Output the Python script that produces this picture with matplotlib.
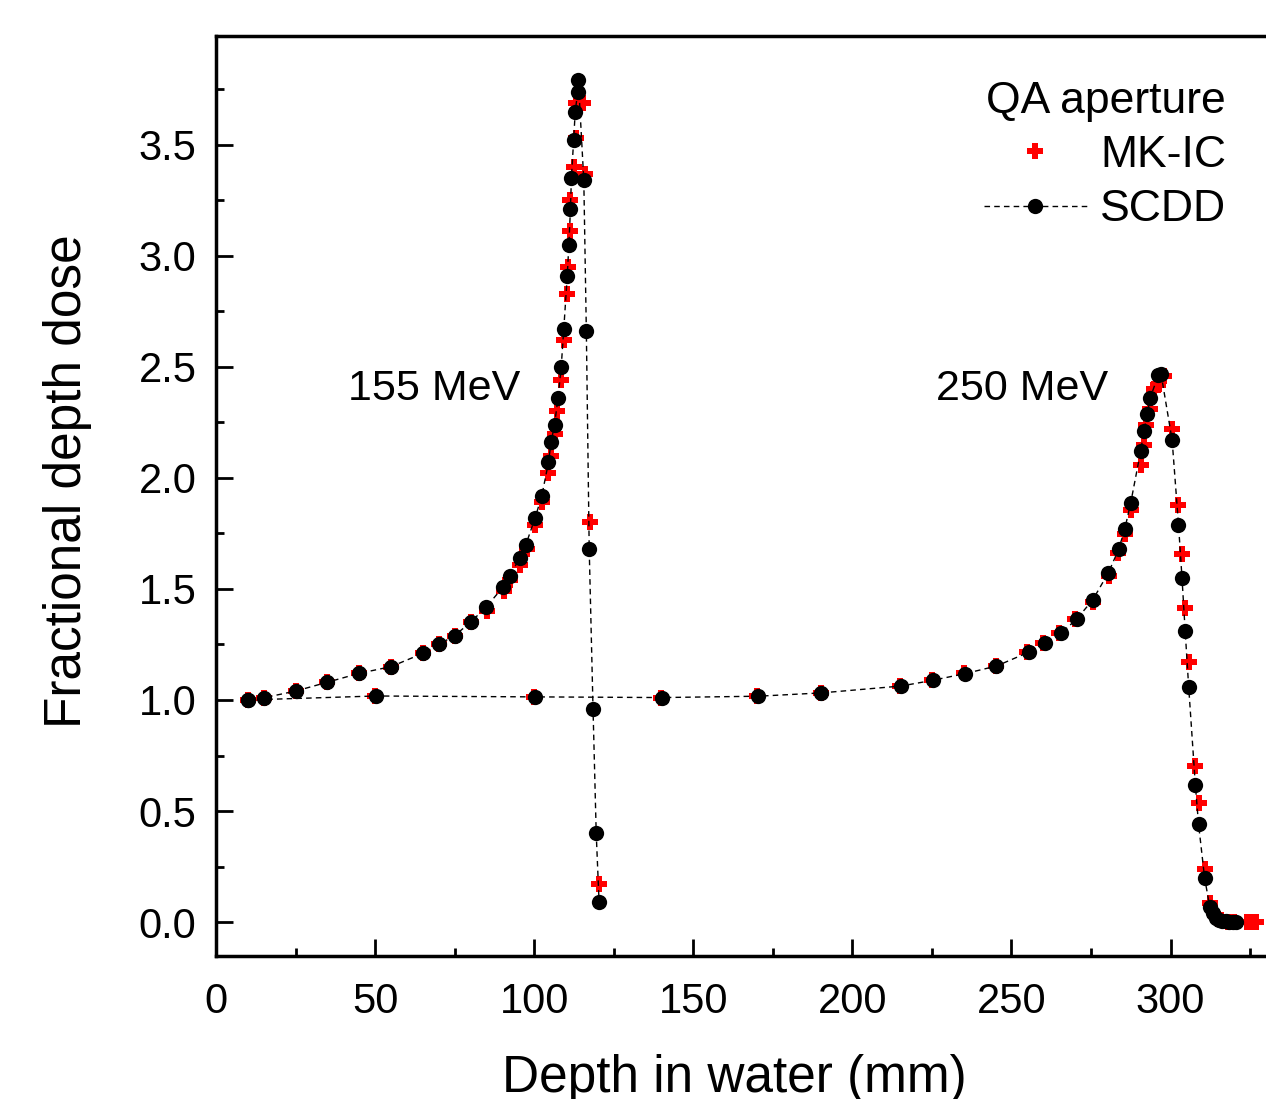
import numpy as np
import matplotlib
matplotlib.use('Agg')
import matplotlib.pyplot as plt

#____________ Data ____________
# SCDD, 155 MeV
scdd_155_x = [10, 15, 25, 35, 45, 55, 65, 70, 75, 80, 85, 90.3, 92.5, 95.4, 97.4,
              100.3, 102.4, 104.5, 105.3, 106.4, 107.5, 108.5, 109.3, 110.4, 110.9,
              111.4, 111.7, 112.4, 112.9, 113.7, 113.9,
              115.6, 116.4, 117.3, 118.5, 119.5, 120.4]
scdd_155_y = [1.00, 1.01, 1.04, 1.08, 1.12, 1.15, 1.21, 1.25, 1.29, 1.35, 1.42, 1.51, 1.56, 1.64, 1.70,
              1.82, 1.92, 2.07, 2.16, 2.24, 2.36, 2.50, 2.67, 2.91, 3.05,
              3.21, 3.35, 3.52, 3.65, 3.74, 3.79,
              3.34, 2.66, 1.68, 0.96, 0.40, 0.09]

# SCDD, 250 MeV
scdd_250_x = [10, 50.2, 100.3, 140.3, 170.4, 190.3, 215.4, 225.4, 235.5, 245.3, 255.4, 260.4,
              265.5, 270.5, 275.6, 280.5, 283.7, 285.6, 287.5, 290.6, 291.6, 292.7, 293.6,
              296.2, 297.0, 300.5, 302.5, 303.6, 304.6, 305.7, 307.8, 308.8, 310.7,
              312.3, 313.3, 314.3, 315.3, 316.3, 317.5, 318.5, 319.5, 320.5]
scdd_250_y = [1.00, 1.018, 1.014, 1.011, 1.017, 1.032, 1.063, 1.089, 1.119, 1.153, 1.215, 1.256,
              1.30, 1.364, 1.452, 1.574, 1.679, 1.769, 1.889, 2.12, 2.21, 2.286, 2.36,
              2.465, 2.47, 2.17, 1.79, 1.55, 1.31, 1.059, 0.617, 0.441, 0.20,
              0.07, 0.04, 0.02, 0.01, 0.005, 0.003, 0.0, 0.0, 0.0]

# MK-IC, 155 MeV
mkic_155_x = [10, 15, 25, 35, 45, 55, 65, 70, 75, 80, 85.3, 90.5, 92.4, 95.5, 97.6,
              100.3, 102.4, 104.5, 105.3, 106.5, 107.3, 108.3, 109.3, 110.4, 110.7,
              111.2, 111.4, 112.5, 113.3, 113.2, 115.4, 116.1, 117.4, 120.4]
mkic_155_y = [1.00, 1.01, 1.04, 1.08, 1.12, 1.15, 1.21, 1.25, 1.29, 1.35, 1.40, 1.49, 1.54, 1.61, 1.68,
              1.79, 1.89, 2.02, 2.10, 2.20, 2.30, 2.44, 2.62, 2.83, 2.95,
              3.11, 3.25, 3.40, 3.53, 3.69, 3.69, 3.37, 1.80, 0.17]

# MK-IC, 250 MeV
mkic_250_x = [10, 50, 100, 140, 170, 190, 215, 225, 235, 245, 255, 260, 265, 270, 275.6,
              280.6, 283.5, 285.6, 287.7, 290.6, 291.6, 292.4, 293.4, 294.7, 296.0, 297.8,
              300.5, 302.5, 303.6, 304.6, 305.7, 307.8, 308.8, 310.9, 312.5,
              314, 315, 316, 318, 320, 324, 325, 326, 327]
mkic_250_y = [1.00, 1.02, 1.015, 1.01, 1.02, 1.03, 1.065, 1.09, 1.12, 1.155, 1.215, 1.255, 1.30, 1.365, 1.44,
              1.56, 1.66, 1.746, 1.854, 2.06, 2.15, 2.24, 2.31, 2.40, 2.42, 2.46,
              2.22, 1.877, 1.656, 1.414, 1.17, 0.702, 0.538, 0.241, 0.084,
              0.03, 0.015, 0.01, 0.0, 0.0, 0.0, 0.0, 0.0, 0.0]

#____________ Plot ____________
plt.rcParams['font.family'] = ['Liberation Sans', 'DejaVu Sans']

fig = plt.figure(figsize=(12.66, 10.99), dpi=100)
ax = fig.add_axes([0.1706, 0.1301, 0.8294, 0.8371])

# MK-IC drawn first so the SCDD circles sit on top
mk_style = dict(linestyle='none', marker='P', color='red', markersize=12, markeredgewidth=0)
ax.plot(mkic_155_x, mkic_155_y, label='MK-IC', **mk_style)
ax.plot(mkic_250_x, mkic_250_y, **mk_style)

sc_style = dict(color='black', linestyle=(0, (4, 3)), linewidth=1.0,
                marker='o', markersize=11, markerfacecolor='black', markeredgewidth=0)
ax.plot(scdd_155_x, scdd_155_y, label='SCDD', **sc_style)
ax.plot(scdd_250_x, scdd_250_y, **sc_style)

ax.text(68.6, 2.40, '155 MeV', fontsize=31, ha='center', va='center')
ax.text(253.2, 2.40, '250 MeV', fontsize=31, ha='center', va='center')

ax.set_xlim(0, 330)
ax.set_ylim(-0.153, 3.99)
ax.set_xticks(np.arange(0, 301, 50))
ax.set_xticks(np.arange(25, 330, 50), minor=True)
ax.set_yticks(np.arange(0, 3.6, 0.5))
ax.set_yticks(np.arange(0.25, 3.9, 0.5), minor=True)
ax.yaxis.set_major_formatter(matplotlib.ticker.FormatStrFormatter('%.1f'))

ax.tick_params(which='both', direction='in', width=2, labelsize=30)
ax.tick_params(which='major', length=12)
ax.tick_params(which='minor', length=6)
ax.tick_params(axis='x', pad=19)
ax.tick_params(axis='y', pad=14)

for s in ['left', 'bottom', 'top']:
    ax.spines[s].set_linewidth(2.5)
ax.spines['right'].set_visible(False)

ax.set_xlabel('Depth in water (mm)', fontsize=37)
ax.set_ylabel('Fractional depth dose', fontsize=37)
ax.xaxis.set_label_coords(0.494, -0.1060)
ax.yaxis.set_label_coords(-0.118, 0.516)

leg = ax.legend(title='QA aperture', loc='upper right', bbox_to_anchor=(1.0, 0.995),
                frameon=False, fontsize=32, title_fontsize=32, numpoints=1,
                handlelength=2.3, handletextpad=0.3, labelspacing=0.3)
leg._legend_box.align = 'right'

fig.savefig('out.png', dpi=100)
